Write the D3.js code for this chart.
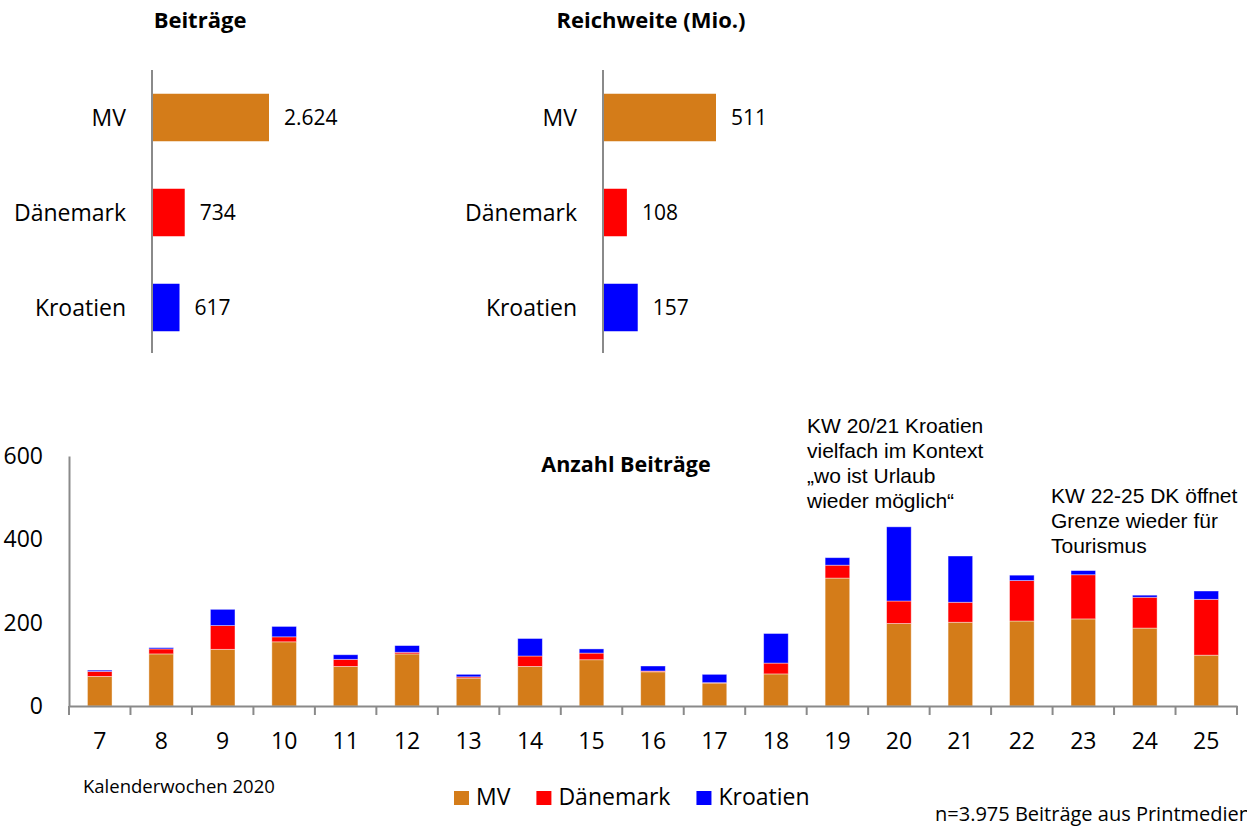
<!DOCTYPE html>
<html>
<head>
<meta charset="utf-8">
<script src="https://cdn.jsdelivr.net/npm/d3@7"></script>
<style>
    body { margin: 0; background: #fff; }
    text { font-family: "Open Sans", sans-serif; fill: #000; }
    .note { font-family: "Liberation Sans", Arial, sans-serif; font-size: 21px; }
</style>
</head>
<body>
<svg id="chart"></svg>
<script>
// top panels
const countries = ["MV", "Dänemark", "Kroatien"];
const beitraege = [2624, 734, 617];
const reichweite = [511, 108, 157];

// weekly stacked bars
const weeks = ["7", "8", "9", "10", "11", "12", "13", "14", "15", "16", "17", "18", "19", "20", "21", "22", "23", "24", "25"];
const mv = [71, 125, 136, 154, 95, 125, 67, 95, 111, 82, 55, 77, 307, 198, 201, 204, 209, 187, 122];
const daenemark = [12, 12, 57, 12, 17, 4, 3, 25, 16, 2, 1, 26, 31, 54, 48, 97, 106, 74, 134];
const kroatien = [3, 3, 39, 25, 11, 16, 6, 42, 10, 12, 20, 71, 18, 178, 111, 13, 10, 5, 20];
const yTicks = [0, 200, 400, 600];

const colors = ["#D47C19", "#FF0000", "#0000FF"];
const axisGrey = "#8a8a8a";

const de = d3.formatLocale({ decimal: ",", thousands: ".", grouping: [3], currency: ["", " €"] });
const fmt = de.format(",");

const width = 1247, height = 827;
const svg = d3.select("#chart").attr("width", width).attr("height", height);

class HBars {
    constructor(svg, values, title, x0, maxW, titleX) {
        this.svg = svg;
        this.values = values;
        this.title = title;
        this.x0 = x0;
        this.maxW = maxW;
        this.titleX = titleX;
    }

    draw() {
        const g = this.svg.append("g");
        const data = countries.map((c, i) => ({ name: c, value: this.values[i], color: colors[i] }));

        const y = d3.scaleBand().domain(countries).range([70, 355]).paddingInner(0.5).paddingOuter(0.25);
        const x = d3.scaleLinear().domain([0, d3.max(this.values)]).range([this.x0, this.x0 + this.maxW]);

        g.selectAll("rect")
            .data(data)
            .join("rect")
            .attr("x", x(0))
            .attr("y", d => y(d.name))
            .attr("width", d => x(d.value) - x(0))
            .attr("height", y.bandwidth())
            .attr("fill", d => d.color);

        g.append("line")
            .attr("x1", x(0)).attr("x2", x(0))
            .attr("y1", 70).attr("y2", 353)
            .attr("stroke", axisGrey)
            .attr("stroke-width", 2);

        g.selectAll(".cat")
            .data(data)
            .join("text")
            .attr("class", "cat")
            .attr("x", x(0) - 26)
            .attr("y", d => y(d.name) + y.bandwidth() / 2)
            .attr("dy", "0.35em")
            .attr("text-anchor", "end")
            .style("font-size", "23px")
            .text(d => d.name);

        g.selectAll(".val")
            .data(data)
            .join("text")
            .attr("class", "val")
            .attr("x", d => x(d.value) + 15)
            .attr("y", d => y(d.name) + y.bandwidth() / 2)
            .attr("dy", "0.35em")
            .style("font-size", "21px")
            .text(d => fmt(d.value));

        g.append("text")
            .attr("x", this.titleX)
            .attr("y", 28)
            .attr("text-anchor", "middle")
            .style("font-size", "22px")
            .style("font-weight", "bold")
            .text(this.title);
    }
}

new HBars(svg, beitraege, "Beiträge", 152, 117, 200).draw();
new HBars(svg, reichweite, "Reichweite (Mio.)", 603, 113, 651).draw();

// ---- weekly chart ----
const keys = ["MV", "Dänemark", "Kroatien"];
const table = weeks.map((w, i) => ({ week: w, "MV": mv[i], "Dänemark": daenemark[i], "Kroatien": kroatien[i] }));
const series = d3.stack().keys(keys)(table);

const x = d3.scaleBand().domain(weeks).range([69, 1237]).paddingInner(0.6).paddingOuter(0.3);
const y = d3.scaleLinear().domain([0, 600]).range([706, 456]);

const bars = svg.append("g");
bars.selectAll("g")
    .data(series)
    .join("g")
    .attr("fill", (d, i) => colors[i])
    .selectAll("rect")
    .data(d => d)
    .join("rect")
    .attr("x", d => x(d.data.week))
    .attr("y", d => y(d[1]))
    .attr("width", x.bandwidth())
    .attr("height", d => y(d[0]) - y(d[1]))
    .attr("stroke", "#fff")
    .attr("stroke-opacity", 0.5)
    .attr("stroke-width", 0.8);

const yAxis = svg.append("g")
    .attr("transform", `translate(${x.range()[0]},0)`)
    .call(d3.axisLeft(y).tickValues(yTicks).tickSize(0).tickSizeOuter(0).tickPadding(26));
yAxis.select(".domain").attr("stroke", axisGrey).attr("stroke-width", 2);
yAxis.selectAll("text").style("font-family", "Open Sans").style("font-size", "23px").attr("fill", "#000");

const xAxis = svg.append("g")
    .attr("transform", `translate(0,${y(0)})`)
    .call(d3.axisBottom(x).tickSize(0).tickSizeOuter(0).tickPadding(27));
xAxis.select(".domain").attr("stroke", axisGrey).attr("stroke-width", 2);
xAxis.selectAll("text").style("font-family", "Open Sans").style("font-size", "23px").attr("fill", "#000");

// category boundary ticks
const gap = x.step() - x.bandwidth();
const bounds = weeks.map(w => x(w) - gap / 2).concat([x(weeks[weeks.length - 1]) + x.bandwidth() + gap / 2]);
xAxis.selectAll(".bound")
    .data(bounds)
    .join("line")
    .attr("class", "bound")
    .attr("x1", d => d).attr("x2", d => d)
    .attr("y1", 0).attr("y2", 9)
    .attr("stroke", axisGrey)
    .attr("stroke-width", 2);

svg.append("text")
    .attr("x", 626)
    .attr("y", 472)
    .attr("text-anchor", "middle")
    .style("font-size", "21.5px")
    .style("font-weight", "bold")
    .text("Anzahl Beiträge");

// notes
const note1 = ["KW 20/21 Kroatien", "vielfach im Kontext", "„wo ist Urlaub", "wieder möglich“"];
const note2 = ["KW 22-25 DK öffnet", "Grenze wieder für", "Tourismus"];

function addNote(lines, x0, y0) {
    svg.append("text")
        .attr("class", "note")
        .selectAll("tspan")
        .data(lines)
        .join("tspan")
        .attr("x", x0)
        .attr("y", (d, i) => y0 + i * 25)
        .text(d => d);
}
addNote(note1, 807, 433);
addNote(note2, 1051, 503);

svg.append("text")
    .attr("x", 83)
    .attr("y", 793)
    .style("font-size", "18.5px")
    .text("Kalenderwochen 2020");

// legend
const legend = svg.append("g").attr("transform", "translate(454,0)");
let lx = 0;
keys.forEach((k, i) => {
    legend.append("rect")
        .attr("x", lx).attr("y", 791)
        .attr("width", 15).attr("height", 14)
        .attr("fill", colors[i]);
    const t = legend.append("text")
        .attr("x", lx + 22)
        .attr("y", 805)
        .style("font-size", "23px")
        .text(k);
    lx += 22 + t.node().getComputedTextLength() + 26;
});

// footnote runs past the right edge, as in the original
svg.append("text")
    .attr("x", 935)
    .attr("y", 821)
    .style("font-size", "20px")
    .text("n=3.975 Beiträge aus Printmedien");
</script>
</body>
</html>
